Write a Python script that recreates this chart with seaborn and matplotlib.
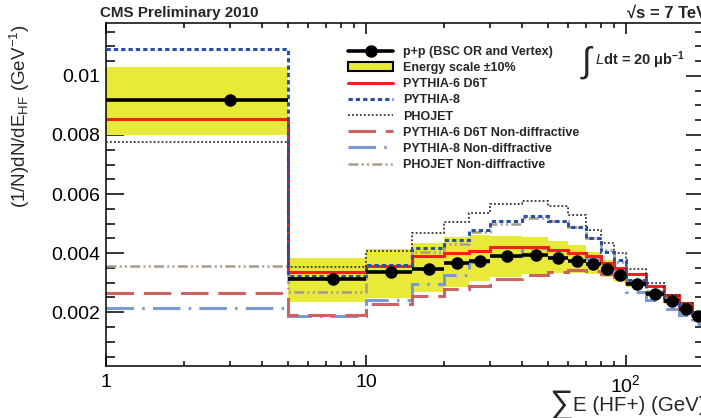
import numpy as np
import matplotlib
matplotlib.use("Agg")
import matplotlib.pyplot as plt
from matplotlib.patches import Patch
from matplotlib.lines import Line2D
from matplotlib.ticker import FixedLocator, FixedFormatter, MultipleLocator, LogLocator, NullFormatter
import seaborn as sns

# bin edges in sum E (GeV)
edges = [1, 5, 10, 15, 20, 25, 30, 40, 50, 60, 70, 80, 90, 100, 120, 140, 160, 180, 200]

# measured p+p points and energy scale band
data = [0.0092, 0.00311, 0.00336, 0.00348, 0.00365, 0.00374, 0.0039, 0.00393, 0.00385,
        0.00375, 0.00363, 0.00347, 0.00325, 0.00297, 0.00263, 0.00238, 0.00211, 0.00188]
band_hi = [0.0103, 0.00385, 0.00413, 0.00436, 0.00455, 0.00461, 0.00458, 0.00453, 0.00442,
           0.00427, 0.00404, 0.00376, 0.00345, 0.00310, 0.00274, 0.00248, 0.00220, 0.00196]
band_lo = [0.0080, 0.00235, 0.00248, 0.00268, 0.00286, 0.00306, 0.0032, 0.0033, 0.00334,
           0.00334, 0.00330, 0.00318, 0.00302, 0.00284, 0.00252, 0.00228, 0.00202, 0.0018]

# MC predictions
pythia6 = [0.00854, 0.00337, 0.00356, 0.0039, 0.00399, 0.00407, 0.0042, 0.0042, 0.0041,
           0.0040, 0.0039, 0.00368, 0.0035, 0.0033, 0.0029, 0.0026, 0.0023, 0.0020]
pythia8 = [0.0109, 0.00324, 0.00359, 0.00416, 0.00444, 0.00478, 0.0051, 0.00527, 0.0051,
           0.00489, 0.0045, 0.00404, 0.00376, 0.0031, 0.0027, 0.0024, 0.0021, 0.0019]
phojet = [0.00777, 0.00352, 0.00408, 0.00467, 0.00506, 0.00535, 0.00566, 0.00577, 0.00559,
          0.00529, 0.0048, 0.00435, 0.00399, 0.00348, 0.00298, 0.0026, 0.0023, 0.0020]
pythia6_nd = [0.00265, 0.00192, 0.00228, 0.00254, 0.00277, 0.00288, 0.00314, 0.00325, 0.00337,
              0.00342, 0.0034, 0.0033, 0.0032, 0.0030, 0.0027, 0.0024, 0.0021, 0.0019]
pythia8_nd = [0.00213, 0.00187, 0.00241, 0.00295, 0.00325, 0.00371, 0.0039, 0.00416, 0.0041,
              0.0040, 0.0038, 0.0034, 0.0032, 0.0027, 0.0024, 0.0021, 0.0019, 0.0016]
phojet_nd = [0.00356, 0.0027, 0.00338, 0.00404, 0.0043, 0.0047, 0.0050, 0.0052, 0.0051,
             0.0049, 0.0045, 0.0041, 0.0037, 0.0033, 0.0029, 0.0025, 0.0022, 0.0019]

xticks = [1, 10, 100]
xticklabels = ["1", "10", "$10^{2}$"]
yticks = [0.002, 0.004, 0.006, 0.008, 0.01]
yticklabels = ["0.002", "0.004", "0.006", "0.008", "0.01"]

sns.set_theme(style="ticks")
plt.rcParams["font.family"] = ["Liberation Sans", "DejaVu Sans"]
plt.rcParams["mathtext.fontset"] = "custom"
plt.rcParams["mathtext.rm"] = "Liberation Sans"
plt.rcParams["mathtext.it"] = "Liberation Sans:italic"
plt.rcParams["mathtext.bf"] = "Liberation Sans:bold"

W, H = 701, 418
fig = plt.figure(figsize=(W / 100, H / 100), dpi=100)
ax = fig.add_axes([106 / W, 1 - 366 / H, (704 - 106) / W, (366 - 22.7) / H])

yellow = "#e9e93a"
ax.stairs(band_hi, edges, baseline=band_lo, fill=True, color=yellow, lw=0, zorder=1)

ax.stairs(phojet_nd, edges, baseline=None, color="#a89a8c", lw=1.8,
          linestyle=(0, (4, 1.3, 0.8, 1.3, 0.8, 1.3)), label="PHOJET Non-diffractive", zorder=2)
ax.stairs(pythia8_nd, edges, baseline=None, color="#7b9bd0", lw=2.2,
          linestyle=(0, (9, 2.7, 0.8, 2.7)), label="PYTHIA-8 Non-diffractive", zorder=2)
ax.stairs(pythia6_nd, edges, baseline=None, color="#cc6262", lw=2.2,
          linestyle=(0, (9, 3.2)), label="PYTHIA-6 D6T Non-diffractive", zorder=2)
ax.stairs(phojet, edges, baseline=None, color="#333333", lw=1.3,
          linestyle=(0, (1, 1.2)), label="PHOJET", zorder=3)
ax.stairs(pythia8, edges, baseline=None, color="#2b4fa8", lw=2.2,
          linestyle=(0, (1.4, 1.0)), label="PYTHIA-8", zorder=3)
ax.stairs(pythia6, edges, baseline=None, color="#f02020", lw=2.2,
          label="PYTHIA-6 D6T", zorder=2.5)

e = np.array(edges, dtype=float)
centers = (e[:-1] + e[1:]) / 2
halfw = (e[1:] - e[:-1]) / 2
ax.errorbar(centers, data, xerr=halfw, fmt="o", color="black", ms=8,
            elinewidth=2.6, capsize=0, zorder=5)

ax.set_xscale("log")
ax.set_xlim(1, 200)
ax.set_ylim(0.00018, 0.0118)
ax.xaxis.set_major_locator(FixedLocator(xticks))
ax.xaxis.set_major_formatter(FixedFormatter(xticklabels))
ax.xaxis.set_minor_locator(LogLocator(base=10, subs=np.arange(2, 10), numticks=20))
ax.xaxis.set_minor_formatter(NullFormatter())
ax.yaxis.set_major_locator(FixedLocator(yticks))
ax.yaxis.set_major_formatter(FixedFormatter(yticklabels))
ax.yaxis.set_minor_locator(MultipleLocator(0.0005))

ax.tick_params(which="both", direction="in", top=True, right=True, width=1.1,
               color="black", labelcolor="black", labelsize=14)
ax.tick_params(axis="x", which="major", length=8, pad=6)
ax.tick_params(axis="x", which="minor", length=3.6)
ax.tick_params(axis="y", which="major", length=13, pad=4)
ax.tick_params(axis="y", which="minor", length=6.5)
for s in ax.spines.values():
    s.set_linewidth(1.1)
    s.set_color("black")
ax.grid(False)

handles, labels = ax.get_legend_handles_labels()
lookup = dict(zip(labels, handles))
lookup["p+p (BSC OR and Vertex)"] = Line2D([], [], color="black", lw=2.6, marker="o", ms=8)
lookup["Energy scale ±10%"] = Patch(facecolor=yellow, edgecolor="black", linewidth=1.5)
order = ["p+p (BSC OR and Vertex)", "Energy scale ±10%", "PYTHIA-6 D6T", "PYTHIA-8", "PHOJET",
         "PYTHIA-6 D6T Non-diffractive", "PYTHIA-8 Non-diffractive", "PHOJET Non-diffractive"]
ax.legend([lookup[k] for k in order], order, loc="upper left",
          bbox_to_anchor=(348 / W, 1 - 46 / H), bbox_transform=fig.transFigure,
          frameon=False, prop={"weight": "bold", "size": 9}, handlelength=3.6,
          handletextpad=0.8, labelspacing=0.33, borderpad=0, borderaxespad=0)

fig.text(100 / W, 1 - 12.7 / H, "CMS Preliminary 2010", fontsize=10.9, fontweight="bold",
         ha="left", va="center")
fig.text(627 / W, 1 - 13 / H, "√s = 7 TeV", fontsize=12, fontweight="bold",
         ha="left", va="center")
fig.text(582 / W, 1 - 62 / H, "∫", fontsize=25, ha="left", va="center")
fig.text(595 / W, 1 - 60 / H, r"$\mathit{L}$dt = 20 μb$^{\mathbf{-1}}$", fontsize=10.5,
         fontweight="bold", ha="left", va="center")

fig.text(20 / W, 1 - 24 / H, r"(1/N)dN/dE$_{\mathrm{HF}}$ (GeV$^{-1}$)", fontsize=13.5,
         rotation=90, ha="center", va="top")
fig.text(549 / W, 1 - 405 / H, "∑", fontsize=24, ha="left", va="center")
fig.text(573 / W, 1 - 405.5 / H, "E (HF+) (GeV)", fontsize=14.8, ha="left", va="center")

fig.savefig("out.png", dpi=100)
